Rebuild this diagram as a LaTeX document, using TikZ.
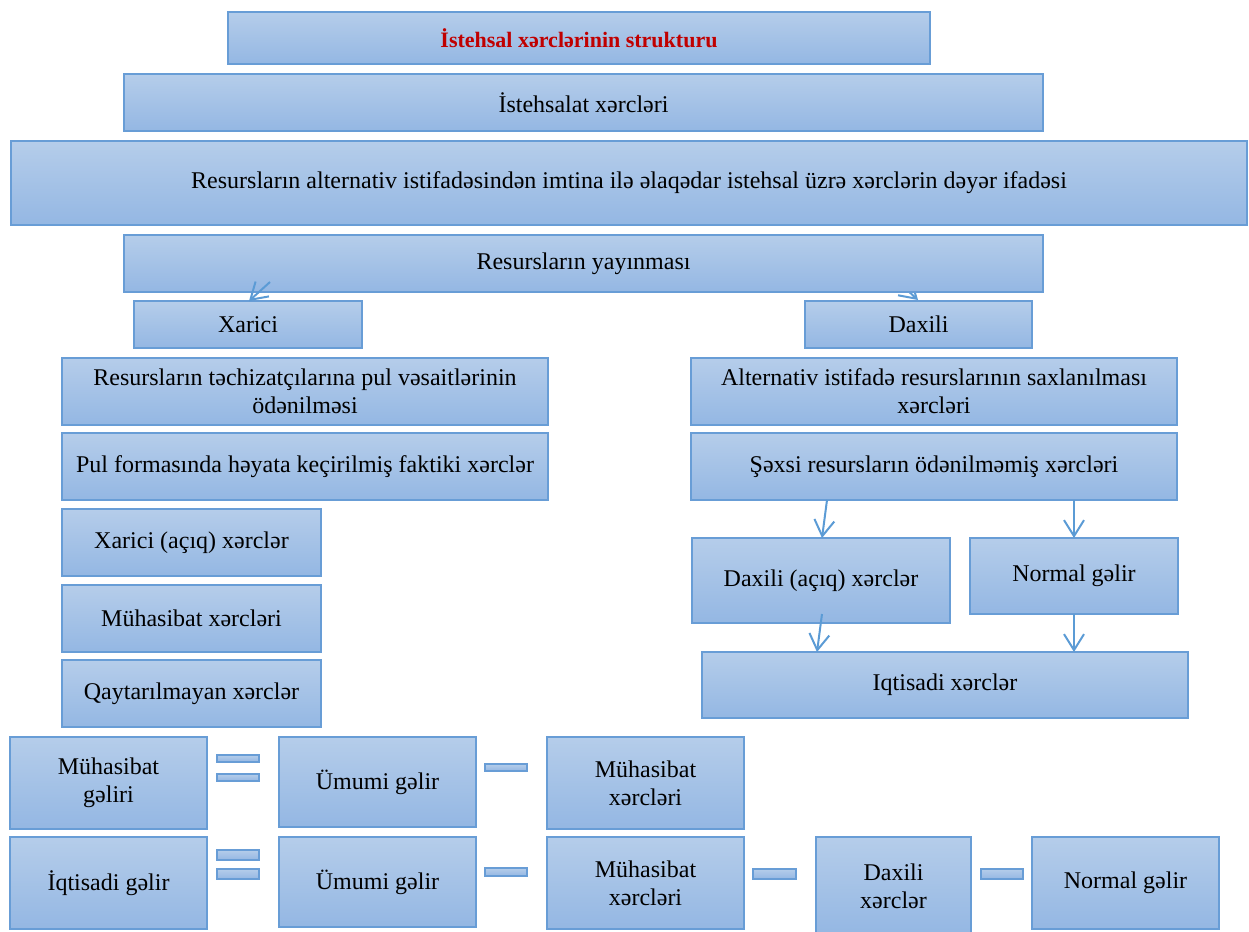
\documentclass[tikz,border=0pt]{standalone}
\usepackage{fontspec}
\setmainfont{Liberation Serif}
\usetikzlibrary{arrows.meta}
\definecolor{btop}{RGB}{181,205,234}
\definecolor{bbot}{RGB}{148,183,227}
\definecolor{bbord}{RGB}{104,157,214}
\definecolor{arr}{RGB}{91,155,213}
\definecolor{tred}{RGB}{192,0,0}
\tikzset{
  box/.style={draw=bbord, line width=1.3pt, top color=btop, bottom color=bbot,
    font=\fontsize{24}{28}\selectfont, align=center, inner sep=0pt, outer sep=0pt},
  bar/.style={draw=bbord, line width=1.2pt, top color=btop, bottom color=bbot, inner sep=0pt, outer sep=0pt},
  arrline/.style={draw=arr, line width=2pt, -{Straight Barb[length=16pt,width=20pt,line width=2pt]}}
}
\newcommand\bx[6]{\node[box,anchor=north west,minimum width={#4-#2},minimum height={#5-#3}] (#1) at (#2,#3) {#6};}
\newcommand\br[5]{\node[bar,anchor=north west,minimum width={#4-#2},minimum height={#5-#3}] (#1) at (#2,#3) {};}
\begin{document}
\begin{tikzpicture}[x=1pt,y=-1pt]
\useasboundingbox (0,0) rectangle (1249,931);
% arrow hidden partly under boxes
\coordinate (dxs) at (906,289);
\coordinate (dxe) at (918,300);
\draw[arrline] (dxs) -- (dxe);
\bx{title}{228}{12}{930}{64}{\fontsize{22}{26}\selectfont\textcolor{tred}{\textbf{İstehsal xərclərinin strukturu}}}
\bx{ist}{124}{74}{1043}{131}{İstehsalat xərcləri}
\bx{alt}{11}{141}{1247}{225}{Resursların alternativ istifadəsindən imtina ilə əlaqədar istehsal üzrə xərclərin dəyər ifadəsi}
\bx{yay}{124}{235}{1043}{292}{Resursların yayınması}
\bx{xar}{134}{301}{362}{348}{Xarici}
\bx{dax}{805}{301}{1032}{348}{Daxili}
\bx{tec}{62}{358}{548}{425}{Resursların təchizatçılarına pul vəsaitlərinin\\ödənilməsi}
\bx{sax}{691}{358}{1177}{425}{Alternativ istifadə resurslarının saxlanılması\\xərcləri}
\bx{pul}{62}{433}{548}{500}{Pul formasında həyata keçirilmiş faktiki xərclər}
\bx{sex}{691}{433}{1177}{500}{Şəxsi resursların ödənilməmiş xərcləri}
\bx{xaq}{62}{509}{321}{576}{Xarici (açıq) xərclər}
\bx{muh}{62}{585}{321}{652}{Mühasibat xərcləri}
\bx{qay}{62}{660}{321}{727}{Qaytarılmayan xərclər}
\bx{daq}{692}{538}{950}{623}{Daxili (açıq) xərclər}
\bx{nor}{970}{538}{1178}{614}{Normal gəlir}
\bx{iqx}{702}{652}{1188}{718}{Iqtisadi xərclər}
% row 1
\bx{mg}{10}{737}{207}{829}{Mühasibat\\gəliri}
\bx{ug1}{279}{737}{476}{827}{Ümumi gəlir}
\bx{mx1}{547}{737}{744}{829}{Mühasibat\\xərcləri}
% row 2
\bx{ig}{10}{837}{207}{929}{İqtisadi gəlir}
\bx{ug2}{279}{837}{476}{927}{Ümumi gəlir}
\bx{mx2}{547}{837}{744}{929}{Mühasibat\\xərcləri}
\bx{dx2}{816}{837}{971}{935}{Daxili\\xərclər}
\bx{ng2}{1032}{837}{1219}{929}{Normal gəlir}
% operator bars
\br{e1a}{217}{755}{259}{762}
\br{e1b}{217}{774}{259}{781}
\br{m1}{485}{764}{527}{771}
\br{e2a}{217}{850}{259}{860}
\br{e2b}{217}{869}{259}{879}
\br{m2}{485}{868}{527}{876}
\br{m3}{753}{869}{796}{879}
\br{m4}{981}{869}{1023}{879}
% arrows
\coordinate (xs) at (270,282);
\draw[arrline] (xs) -- (xar.north -| 249,0);
\draw[arrline] (sex.south -| 827,0) -- (daq.north -| 822,0);
\draw[arrline] (sex.south -| 1074,0) -- (nor.north -| 1074,0);
\draw[arrline] ([yshift=9pt]daq.south -| 822,0) -- (iqx.north -| 817,0);
\draw[arrline] (nor.south -| 1074,0) -- (iqx.north -| 1074,0);
\end{tikzpicture}
\end{document}
